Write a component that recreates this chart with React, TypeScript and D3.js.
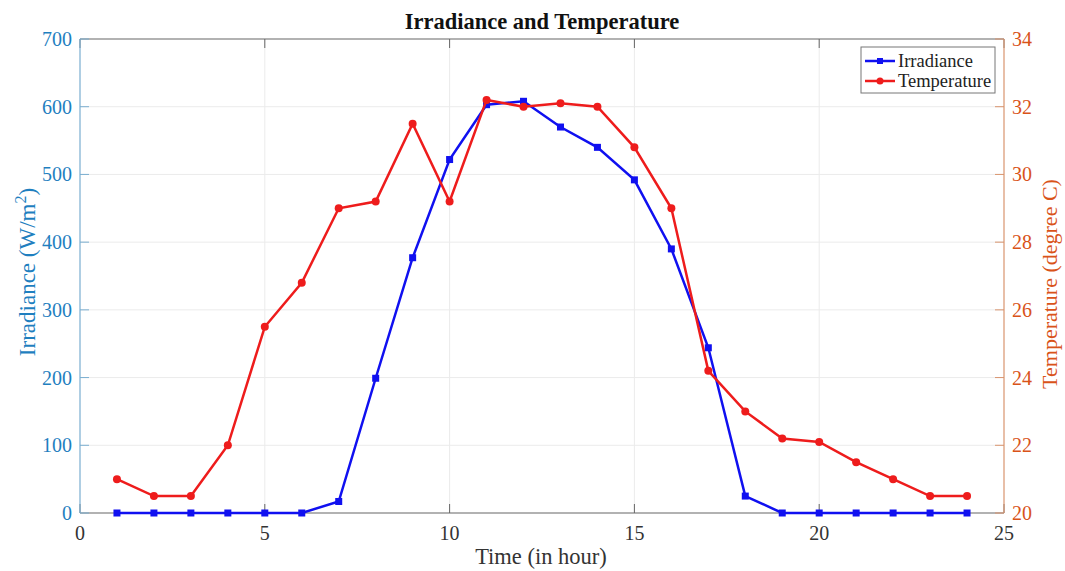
import React, { useEffect, useRef } from 'react'
import * as d3 from 'd3'

const hours = [1, 2, 3, 4, 5, 6, 7, 8, 9, 10, 11, 12, 13, 14, 15, 16, 17, 18, 19, 20, 21, 22, 23, 24]
const irradiance = [0, 0, 0, 0, 0, 0, 17, 199, 377, 522, 603, 608, 570, 540, 492, 390, 244, 25, 0, 0, 0, 0, 0, 0]
const temperature = [21.0, 20.5, 20.5, 22.0, 25.5, 26.8, 29.0, 29.2, 31.5, 29.2, 32.2, 32.0, 32.1, 32.0, 30.8, 29.0, 24.2, 23.0, 22.2, 22.1, 21.5, 21.0, 20.5, 20.5]
const xTicks = [0, 5, 10, 15, 20, 25]
const leftTicks = [0, 100, 200, 300, 400, 500, 600, 700]
const rightTicks = [20, 22, 24, 26, 28, 30, 32, 34]

const FONT = '"Liberation Serif", "Times New Roman", serif'
const LEFT_COLOR = '#1f7fbf'
const RIGHT_COLOR = '#d95319'
const IRR_COLOR = '#1010f0'
const TEMP_COLOR = '#ee1c1c'

export default function App() {
  const svgRef = useRef<SVGSVGElement>(null)

  useEffect(() => {
    const width = 1065
    const height = 571
    const margin = { top: 39, right: 61, bottom: 58, left: 80 }

    const svg = d3.select(svgRef.current)
    svg.selectAll('*').remove()
    svg.attr('width', width).attr('height', height).attr('font-family', FONT)

    const x = d3.scaleLinear().domain([0, 25]).range([margin.left, width - margin.right])
    const yL = d3.scaleLinear().domain([0, 700]).range([height - margin.bottom, margin.top])
    const yR = d3.scaleLinear().domain([20, 34]).range([height - margin.bottom, margin.top])
    const x0 = margin.left
    const x1 = width - margin.right
    const y0 = height - margin.bottom
    const y1 = margin.top

    svg.append('rect').attr('x', 0).attr('y', 0).attr('width', width).attr('height', height).attr('fill', '#fff')

    // grid
    const grid = svg.append('g').attr('stroke', '#ebebeb').attr('stroke-width', 1)
    xTicks.slice(1, -1).forEach((t) => {
      grid.append('line').attr('x1', x(t)).attr('x2', x(t)).attr('y1', y1).attr('y2', y0)
    })
    leftTicks.slice(1, -1).forEach((t) => {
      grid.append('line').attr('x1', x0).attr('x2', x1).attr('y1', yL(t)).attr('y2', yL(t))
    })

    // x axis bottom + top
    svg.append('line').attr('x1', x0).attr('x2', x1).attr('y1', y0).attr('y2', y0).attr('stroke', '#666').attr('stroke-width', 1.2)
    svg.append('line').attr('x1', x0).attr('x2', x1).attr('y1', y1).attr('y2', y1).attr('stroke', '#666').attr('stroke-width', 1.2)
    xTicks.forEach((t) => {
      svg.append('line').attr('x1', x(t)).attr('x2', x(t)).attr('y1', y0).attr('y2', y0 - 9).attr('stroke', '#666')
      svg.append('line').attr('x1', x(t)).attr('x2', x(t)).attr('y1', y1).attr('y2', y1 + 9).attr('stroke', '#666')
      svg.append('text')
        .attr('x', x(t))
        .attr('y', y0 + 27)
        .attr('text-anchor', 'middle')
        .attr('font-size', 20)
        .attr('fill', '#333')
        .text(t)
    })

    // left axis
    svg.append('line').attr('x1', x0).attr('x2', x0).attr('y1', y0).attr('y2', y1).attr('stroke', '#7aaed0').attr('stroke-width', 1.2)
    leftTicks.forEach((t) => {
      svg.append('line').attr('x1', x0).attr('x2', x0 + 9).attr('y1', yL(t)).attr('y2', yL(t)).attr('stroke', '#7aaed0')
      svg.append('text')
        .attr('x', x0 - 8)
        .attr('y', yL(t) + 7)
        .attr('text-anchor', 'end')
        .attr('font-size', 20)
        .attr('fill', LEFT_COLOR)
        .text(t)
    })

    // right axis
    svg.append('line').attr('x1', x1).attr('x2', x1).attr('y1', y0).attr('y2', y1).attr('stroke', '#d9946e').attr('stroke-width', 1.2)
    rightTicks.forEach((t) => {
      svg.append('line').attr('x1', x1).attr('x2', x1 - 9).attr('y1', yR(t)).attr('y2', yR(t)).attr('stroke', '#d9946e')
      svg.append('text')
        .attr('x', x1 + 8)
        .attr('y', yR(t) + 7)
        .attr('text-anchor', 'start')
        .attr('font-size', 20)
        .attr('fill', RIGHT_COLOR)
        .text(t)
    })

    // lines
    const irrLine = d3.line<number>().x((_, i) => x(hours[i])).y((d) => yL(d))
    const tempLine = d3.line<number>().x((_, i) => x(hours[i])).y((d) => yR(d))

    svg.append('path').datum(irradiance).attr('d', irrLine).attr('fill', 'none').attr('stroke', IRR_COLOR).attr('stroke-width', 2.5)
    svg.selectAll('.irr-pt')
      .data(irradiance)
      .join('rect')
      .attr('class', 'irr-pt')
      .attr('x', (_, i) => x(hours[i]) - 3.5)
      .attr('y', (d) => yL(d) - 3.5)
      .attr('width', 7)
      .attr('height', 7)
      .attr('fill', IRR_COLOR)

    svg.append('path').datum(temperature).attr('d', tempLine).attr('fill', 'none').attr('stroke', TEMP_COLOR).attr('stroke-width', 2.5)
    svg.selectAll('.temp-pt')
      .data(temperature)
      .join('circle')
      .attr('class', 'temp-pt')
      .attr('cx', (_, i) => x(hours[i]))
      .attr('cy', (d) => yR(d))
      .attr('r', 4)
      .attr('fill', TEMP_COLOR)

    // title and labels
    svg.append('text')
      .attr('x', 542)
      .attr('y', 29)
      .attr('text-anchor', 'middle')
      .attr('font-size', 22.5)
      .attr('font-weight', 'bold')
      .attr('fill', '#111')
      .text('Irradiance and Temperature')

    svg.append('text')
      .attr('x', 541)
      .attr('y', 564)
      .attr('text-anchor', 'middle')
      .attr('font-size', 22.5)
      .attr('fill', '#333')
      .text('Time (in hour)')

    const leftLabel = svg.append('text')
      .attr('transform', 'translate(35,272) rotate(-90)')
      .attr('text-anchor', 'middle')
      .attr('font-size', 23)
      .attr('fill', LEFT_COLOR)
    leftLabel.append('tspan').text('Irradiance (W/m')
    leftLabel.append('tspan').attr('dy', -9).attr('font-size', 16).text('2')
    leftLabel.append('tspan').attr('dy', 9).text(')')

    svg.append('text')
      .attr('transform', 'translate(1057,284) rotate(-90)')
      .attr('text-anchor', 'middle')
      .attr('font-size', 22)
      .attr('fill', RIGHT_COLOR)
      .text('Temperature (degree C)')

    // legend
    const lg = svg.append('g').attr('transform', 'translate(861,47)')
    lg.append('rect').attr('width', 134).attr('height', 46).attr('fill', '#fff').attr('stroke', '#777').attr('stroke-width', 1)
    const items = [
      { label: 'Irradiance', color: IRR_COLOR, shape: 'square' },
      { label: 'Temperature', color: TEMP_COLOR, shape: 'circle' },
    ]
    items.forEach((item, i) => {
      const cy = 14 + i * 20
      lg.append('line').attr('x1', 4).attr('x2', 34).attr('y1', cy).attr('y2', cy).attr('stroke', item.color).attr('stroke-width', 2.5)
      if (item.shape === 'square') {
        lg.append('rect').attr('x', 16).attr('y', cy - 3).attr('width', 6).attr('height', 6).attr('fill', item.color)
      } else {
        lg.append('circle').attr('cx', 19).attr('cy', cy).attr('r', 3.5).attr('fill', item.color)
      }
      lg.append('text')
        .attr('x', 37)
        .attr('y', cy + 6)
        .attr('font-size', 18.5)
        .attr('fill', '#222')
        .text(item.label)
    })
  }, [])

  return (
    <div style={{ position: 'fixed', left: 0, top: 0 }}>
      <svg ref={svgRef} />
    </div>
  )
}
